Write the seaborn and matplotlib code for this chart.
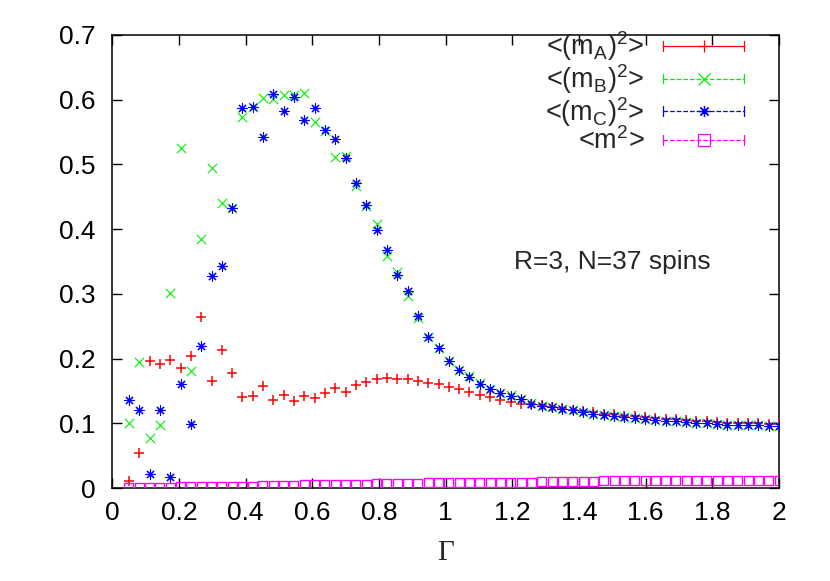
import numpy as np
import pandas as pd
import seaborn as sns
import matplotlib
matplotlib.use("Agg")
import matplotlib.pyplot as plt
from matplotlib.lines import Line2D
from matplotlib.legend_handler import HandlerBase
from matplotlib.ticker import MultipleLocator, FuncFormatter

# Gamma values (64 points, 0.05 .. 2.0)
gamma = [0.050, 0.081, 0.112, 0.143, 0.174, 0.205, 0.236, 0.267, 0.298, 0.329,
         0.360, 0.390, 0.421, 0.452, 0.483, 0.514, 0.545, 0.576, 0.607, 0.638,
         0.669, 0.700, 0.731, 0.762, 0.793, 0.824, 0.855, 0.886, 0.917, 0.948,
         0.979, 1.009, 1.040, 1.071, 1.102, 1.133, 1.164, 1.195, 1.226, 1.257,
         1.288, 1.319, 1.350, 1.381, 1.412, 1.443, 1.474, 1.505, 1.536, 1.567,
         1.598, 1.629, 1.660, 1.690, 1.721, 1.752, 1.783, 1.814, 1.845, 1.876,
         1.907, 1.938, 1.969, 2.000]

m_a = [0.011, 0.054, 0.197, 0.191, 0.198, 0.186, 0.204, 0.265, 0.166, 0.213,
       0.177, 0.140, 0.142, 0.158, 0.136, 0.143, 0.134, 0.142, 0.139, 0.147,
       0.155, 0.149, 0.159, 0.164, 0.168, 0.170, 0.169, 0.168, 0.165, 0.162,
       0.161, 0.156, 0.153, 0.148, 0.143, 0.140, 0.136, 0.133, 0.130, 0.130,
       0.128, 0.125, 0.123, 0.121, 0.119, 0.118, 0.115, 0.114, 0.112, 0.111,
       0.109, 0.108, 0.107, 0.106, 0.105, 0.104, 0.103, 0.102, 0.101, 0.101,
       0.100, 0.100, 0.099, 0.099]

m_b = [0.100, 0.194, 0.078, 0.097, 0.302, 0.526, 0.181, 0.385, 0.494, 0.440,
       0.432, 0.574, 0.588, 0.603, 0.601, 0.608, 0.608, 0.611, 0.566, 0.552,
       0.511, 0.513, 0.466, 0.436, 0.408, 0.359, 0.334, 0.296, 0.262, 0.233,
       0.217, 0.196, 0.183, 0.173, 0.162, 0.153, 0.147, 0.143, 0.137, 0.131,
       0.127, 0.125, 0.122, 0.120, 0.117, 0.115, 0.113, 0.111, 0.109, 0.108,
       0.107, 0.105, 0.104, 0.103, 0.102, 0.101, 0.100, 0.099, 0.098, 0.098,
       0.097, 0.097, 0.096, 0.096]

m_c = [0.136, 0.121, 0.022, 0.121, 0.017, 0.161, 0.099, 0.220, 0.328, 0.343,
       0.433, 0.587, 0.588, 0.542, 0.609, 0.583, 0.604, 0.568, 0.587, 0.553,
       0.540, 0.510, 0.471, 0.437, 0.399, 0.368, 0.329, 0.305, 0.266, 0.234,
       0.217, 0.196, 0.182, 0.172, 0.161, 0.153, 0.147, 0.142, 0.137, 0.130,
       0.127, 0.125, 0.122, 0.120, 0.117, 0.115, 0.113, 0.111, 0.109, 0.108,
       0.107, 0.105, 0.104, 0.103, 0.102, 0.101, 0.100, 0.099, 0.098, 0.098,
       0.097, 0.097, 0.096, 0.096]

m_tot = [0.001, 0.001, 0.001, 0.001, 0.001, 0.002, 0.002, 0.002, 0.002, 0.003,
         0.003, 0.003, 0.003, 0.004, 0.004, 0.004, 0.004, 0.005, 0.005, 0.005,
         0.006, 0.006, 0.006, 0.006, 0.007, 0.007, 0.007, 0.007, 0.007, 0.008,
         0.008, 0.008, 0.008, 0.008, 0.009, 0.009, 0.009, 0.009, 0.009, 0.009,
         0.010, 0.010, 0.010, 0.010, 0.010, 0.010, 0.011, 0.011, 0.011, 0.011,
         0.011, 0.011, 0.011, 0.011, 0.012, 0.012, 0.012, 0.012, 0.012, 0.012,
         0.012, 0.012, 0.012, 0.012]

labels = ['<(m$_{A}$)$^2$>', '<(m$_{B}$)$^2$>', '<(m$_{C}$)$^2$>', '<m$^2$>']
colors = ['#ff0000', '#00ee00', '#0000ff', '#ff00ff']
markers = ['+', 'x', (8, 2, 0), 's']
linestyles = ['-', (0, (4, 2)), (0, (2, 2)), (0, (1, 2))]

sns.set_style('ticks')
plt.rcParams['font.family'] = ['Liberation Sans', 'DejaVu Sans']
plt.rcParams['mathtext.fontset'] = 'custom'
plt.rcParams['mathtext.rm'] = 'Liberation Sans'
plt.rcParams['mathtext.default'] = 'regular'

df = pd.DataFrame({'gamma': gamma, 'ma': m_a, 'mb': m_b, 'mc': m_c, 'm': m_tot})

fig = plt.figure(figsize=(8.3, 5.81), dpi=100)
ax = fig.add_axes([0.1353, 0.160, 0.8033, 0.7798])

series = ['ma', 'mb', 'mc', 'm']
for col, c, mk in zip(series, colors, markers):
    if mk == 's':
        sns.scatterplot(data=df, x='gamma', y=col, marker='s', s=42,
                        color=c, facecolor='none', edgecolor=c,
                        linewidth=1.0, ax=ax, zorder=3)
    elif mk == '+':
        sns.scatterplot(data=df, x='gamma', y=col, marker=mk, s=45,
                        color=c, linewidth=1.1, ax=ax, zorder=3)
    else:
        sns.scatterplot(data=df, x='gamma', y=col, marker=mk, s=45,
                        color=c, linewidth=0.8, ax=ax, zorder=3)


class ErrHandler(HandlerBase):
    # gnuplot-like errorbar key: line with end caps and the point in the middle
    def create_artists(self, legend, orig_handle, xdescent, ydescent,
                       width, height, fontsize, trans):
        c = orig_handle.get_color()
        y = height / 2 - ydescent
        x0, x1 = -xdescent, width - xdescent
        cap = 3.5
        arts = [Line2D([x0, x1], [y, y], color=c, lw=0.9,
                       linestyle=orig_handle.get_linestyle())]
        for xx in (x0, x1):
            arts.append(Line2D([xx, xx], [y - cap, y + cap], color=c, lw=0.9))
        arts.append(Line2D([(x0 + x1) / 2], [y], marker=orig_handle.get_marker(),
                           ms=8, mew=0.9, color=c, mfc='none', ls=''))
        for a in arts:
            a.set_transform(trans)
        return arts


handles = [Line2D([], [], color=c, marker=mk, linestyle=ls)
           for c, mk, ls in zip(colors, markers, linestyles)]
ax.legend(handles, labels, loc='upper right', bbox_to_anchor=(0.948, 1.012),
          frameon=False, markerfirst=False, fontsize=19.5, handlelength=3.0,
          handletextpad=0.7, labelspacing=-0.04, borderpad=0, borderaxespad=0,
          handler_map={Line2D: ErrHandler()})

ax.text(1.5, 0.35, 'R=3, N=37 spins', fontsize=19, ha='center', va='center')

ax.set_xlim(0, 2)
ax.set_ylim(0, 0.7)
ax.xaxis.set_major_locator(MultipleLocator(0.2))
ax.yaxis.set_major_locator(MultipleLocator(0.1))
fmt = FuncFormatter(lambda v, p: f'{v:g}')
ax.xaxis.set_major_formatter(fmt)
ax.yaxis.set_major_formatter(fmt)
ax.tick_params(direction='in', length=7, width=1.0, top=True, right=True,
               labelsize=19, colors='black')
ax.tick_params(axis='x', pad=9)
ax.tick_params(axis='y', pad=12)
for sp in ax.spines.values():
    sp.set_visible(True)
    sp.set_linewidth(1.1)
    sp.set_color('black')

ax.set_xlabel('Γ', fontsize=21, family=['Liberation Serif', 'DejaVu Serif'],
              labelpad=11)
ax.set_ylabel('')

fig.savefig('out.png', dpi=100, facecolor='white')
